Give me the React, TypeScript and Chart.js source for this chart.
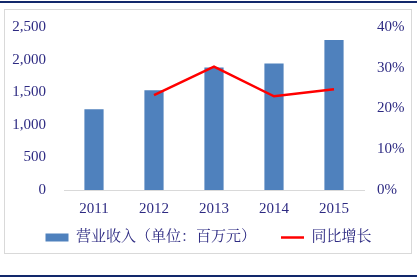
import React, { useEffect, useRef } from "react";
import { Chart, registerables } from "chart.js";

Chart.register(...registerables);

const years = ["2011", "2012", "2013", "2014", "2015"];
const revenue = [1240, 1530, 1880, 1940, 2300];
const growth = [null, 23.3, 30.3, 23.0, 24.7];
const revenueLabel = "营业收入（单位：百万元）";
const growthLabel = "同比增长";

const TEXT = "#2D2A82";
const FONT = '"Liberation Serif", "Noto Serif CJK SC", "Noto Sans CJK SC", serif';

export default function App() {
  const ref = useRef<HTMLCanvasElement | null>(null);

  useEffect(() => {
    document.body.style.margin = "0";
    const ctx = ref.current!;
    const chart = new Chart(ctx, {
      type: "bar",
      data: {
        labels: years,
        datasets: [
          {
            type: "line",
            label: growthLabel,
            data: growth as any,
            borderColor: "#FF0000",
            backgroundColor: "#FF0000",
            borderWidth: 2.5,
            pointRadius: 0,
            pointHoverRadius: 0,
            tension: 0,
            yAxisID: "y1",
            order: 0,
            pointStyle: "line",
          },
          {
            type: "bar",
            label: revenueLabel,
            data: revenue,
            backgroundColor: "#4F81BD",
            borderWidth: 0,
            barPercentage: 0.32,
            categoryPercentage: 1,
            yAxisID: "y",
            order: 1,
            pointStyle: "rect",
          },
        ],
      },
      options: {
        animation: false,
        responsive: false,
        maintainAspectRatio: false,
        layout: { padding: { top: 24, left: 0, right: 0, bottom: 24 } },
        plugins: {
          tooltip: { enabled: false },
          legend: {
            position: "bottom",
            labels: {
              usePointStyle: true,
              pointStyleWidth: 23,
              boxHeight: 8,
              padding: 10,
              color: TEXT,
              font: { family: FONT, size: 15 },
              generateLabels: (c: any) => {
                const items = Chart.defaults.plugins.legend.labels.generateLabels(c);
                const ordered = [items[1], items[0]];
                ordered[0].text = revenueLabel + "\u3000\u2002";
                return ordered;
              },
            },
          },
        },
        scales: {
          x: {
            grid: { display: false, drawTicks: false },
            border: { display: true, color: "#D9D9D9", width: 1 },
            ticks: { color: TEXT, font: { family: FONT, size: 15 }, padding: 10 },
            afterFit: (s: any) => {
              s.height = 30;
            },
          },
          y: {
            position: "left",
            min: 0,
            max: 2500,
            grid: { display: false, drawTicks: false },
            border: { display: false },
            ticks: {
              stepSize: 500,
              color: TEXT,
              font: { family: FONT, size: 15 },
              padding: 18,
              callback: (v: any) => Number(v).toLocaleString("en-US"),
            },
            afterFit: (s: any) => {
              s.width = 64;
            },
          },
          y1: {
            position: "right",
            min: 0,
            max: 40,
            grid: { display: false, drawTicks: false },
            border: { display: false },
            ticks: {
              stepSize: 10,
              color: TEXT,
              font: { family: FONT, size: 15 },
              padding: 13,
              callback: (v: any) => v + "%",
            },
            afterFit: (s: any) => {
              s.width = 53;
            },
          },
        },
      },
    } as any);
    return () => chart.destroy();
  }, []);

  return (
    <div style={{ position: "fixed", left: 0, top: 0, width: 417, height: 279, background: "#fff" }}>
      <div style={{ position: "absolute", left: 0, top: 1, width: 417, height: 2, background: "#12286B" }} />
      <div
        style={{
          position: "absolute",
          left: 4,
          top: 9,
          width: 408,
          height: 245,
          border: "1px solid #D9D9D9",
          boxSizing: "border-box",
        }}
      />
      <div style={{ position: "absolute", left: 0, top: 275, width: 417, height: 2, background: "#12286B" }} />
      <canvas ref={ref} width={417} height={279} style={{ position: "absolute", left: 0, top: 0 }} />
    </div>
  );
}
